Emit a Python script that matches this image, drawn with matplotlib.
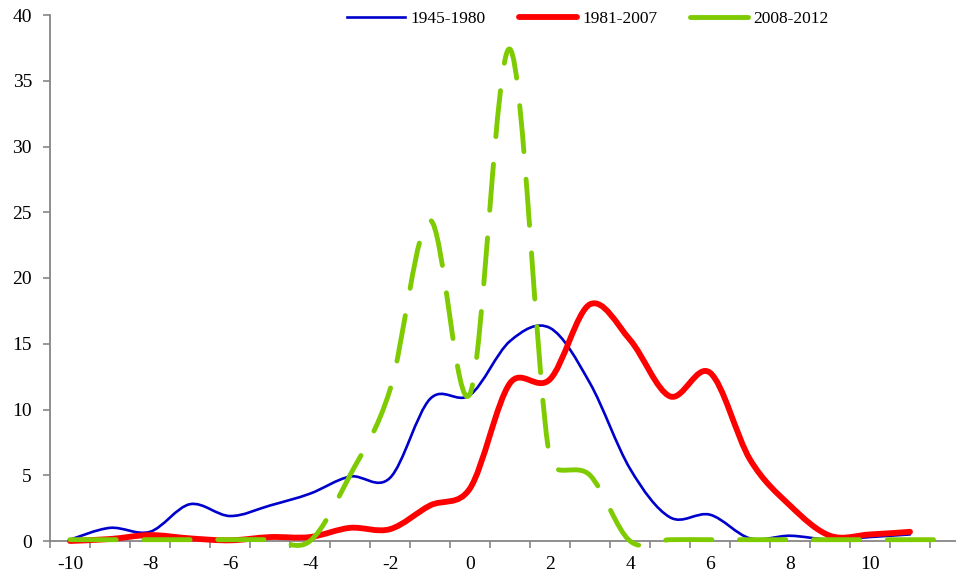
import numpy as np
import matplotlib
matplotlib.use('Agg')
import matplotlib.pyplot as plt
import matplotlib.ticker as ticker
from matplotlib.path import Path
from matplotlib.patches import PathPatch
from matplotlib.lines import Line2D

# values, one per category (-10 .. 12)
x_blue = list(range(-10, 12))
blue_1945_1980 = [0.1, 1.0, 0.7, 2.8, 1.9, 2.7, 3.6, 4.9, 4.8, 10.8, 11.1,
                  15.2, 16.2, 12.0, 5.5, 1.8, 2.0, 0.2, 0.4, 0.1, 0.3, 0.5]

x_red = list(range(-10, 12))
red_1981_2007 = [0.0, 0.15, 0.45, 0.2, 0.05, 0.3, 0.3, 1.0, 0.9, 2.7, 4.0,
                 12.0, 12.3, 18.0, 15.3, 11.0, 12.8, 6.2, 2.7, 0.4, 0.5, 0.7]

x_green = list(range(-10, 13))
green_2008_2012 = [0.1, 0.1, 0.1, 0.1, 0.1, 0.1, 0.0, 5.0, 11.5, 24.4, 11.2,
                   37.4, 6.2, 5.0, 0.0, 0.1, 0.1, 0.1, 0.1, 0.1, 0.1, 0.1, 0.1]

series_labels = ['1945-1980', '1981-2007', '2008-2012']
x_tick_values = list(range(-10, 11, 2))

BLUE = '#0000CC'
RED = '#FF0000'
GREEN = '#7DCB00'
AXIS_GREY = '#868686'

# pixels per data unit, used so smoothing behaves like the spreadsheet did
PX_X, PX_Y = 40.0, 13.15


def smooth_path(xs, ys, tension=1 / 6):
    """Bezier path through the points, control arms capped at half a segment."""
    pts = np.column_stack([np.asarray(xs, float) * PX_X,
                           np.asarray(ys, float) * PX_Y])
    n = len(pts)
    verts = [pts[0]]
    codes = [Path.MOVETO]
    for i in range(n - 1):
        p0 = pts[max(i - 1, 0)]
        p1 = pts[i]
        p2 = pts[i + 1]
        p3 = pts[min(i + 2, n - 1)]
        half = np.hypot(*(p2 - p1)) / 2
        t1 = (p2 - p0) * tension
        t2 = (p3 - p1) * tension
        if np.hypot(*t1) > half:
            t1 = t1 * half / np.hypot(*t1)
        if np.hypot(*t2) > half:
            t2 = t2 * half / np.hypot(*t2)
        verts += [p1 + t1, p2 - t2, p2]
        codes += [Path.CURVE4] * 3
    verts = np.array(verts) / [PX_X, PX_Y]
    return Path(verts, codes)


plt.rcParams['font.family'] = ['Liberation Serif', 'DejaVu Serif']
plt.rcParams['axes.unicode_minus'] = False

fig = plt.figure(figsize=(9.56, 5.72), dpi=100)
ax = fig.add_axes([50 / 956, 1 - 541 / 572, 906 / 956, 526 / 572])

line_specs = [
    (x_blue, blue_1945_1980, dict(edgecolor=BLUE, linewidth=1.9)),
    (x_red, red_1981_2007, dict(edgecolor=RED, linewidth=4.2)),
    (x_green, green_2008_2012, dict(edgecolor=GREEN, linewidth=3.5,
                                    linestyle=(0, (9.5, 5.7)))),
]
for xs, ys, style in line_specs:
    patch = PathPatch(smooth_path(xs, ys), fill=False, clip_on=False,
                      capstyle='round', joinstyle='round', zorder=3, **style)
    ax.add_patch(patch)

ax.set_xlim(-10.5, 12.15)
ax.set_ylim(0, 40)

ax.xaxis.set_major_locator(ticker.FixedLocator(x_tick_values))
ax.xaxis.set_minor_locator(ticker.FixedLocator(np.arange(-10.5, 12.6, 1)))
ax.yaxis.set_major_locator(ticker.MultipleLocator(5))

ax.tick_params(axis='x', which='major', length=0, pad=11, labelsize=14)
ax.tick_params(axis='x', which='minor', length=5, width=1.2,
               color=AXIS_GREY, direction='out')
ax.tick_params(axis='y', which='major', length=5, width=1.2, pad=8,
               color=AXIS_GREY, direction='out', labelsize=14)

for side in ('top', 'right'):
    ax.spines[side].set_visible(False)
for side in ('left', 'bottom'):
    ax.spines[side].set_color(AXIS_GREY)
    ax.spines[side].set_linewidth(1.3)

handles = [
    Line2D([], [], color=BLUE, linewidth=1.9),
    Line2D([], [], color=RED, linewidth=4.2, solid_capstyle='round'),
    Line2D([], [], color=GREEN, linewidth=3.5, solid_capstyle='round'),
]
fig.legend(handles, series_labels, loc='center',
           bbox_to_anchor=(588 / 956, 1 - 19 / 572), ncol=3, frameon=False,
           fontsize=12.5, handlelength=3.34, handletextpad=0.3,
           columnspacing=1.9, borderaxespad=0, borderpad=0)

fig.savefig('out.png', dpi=100)
